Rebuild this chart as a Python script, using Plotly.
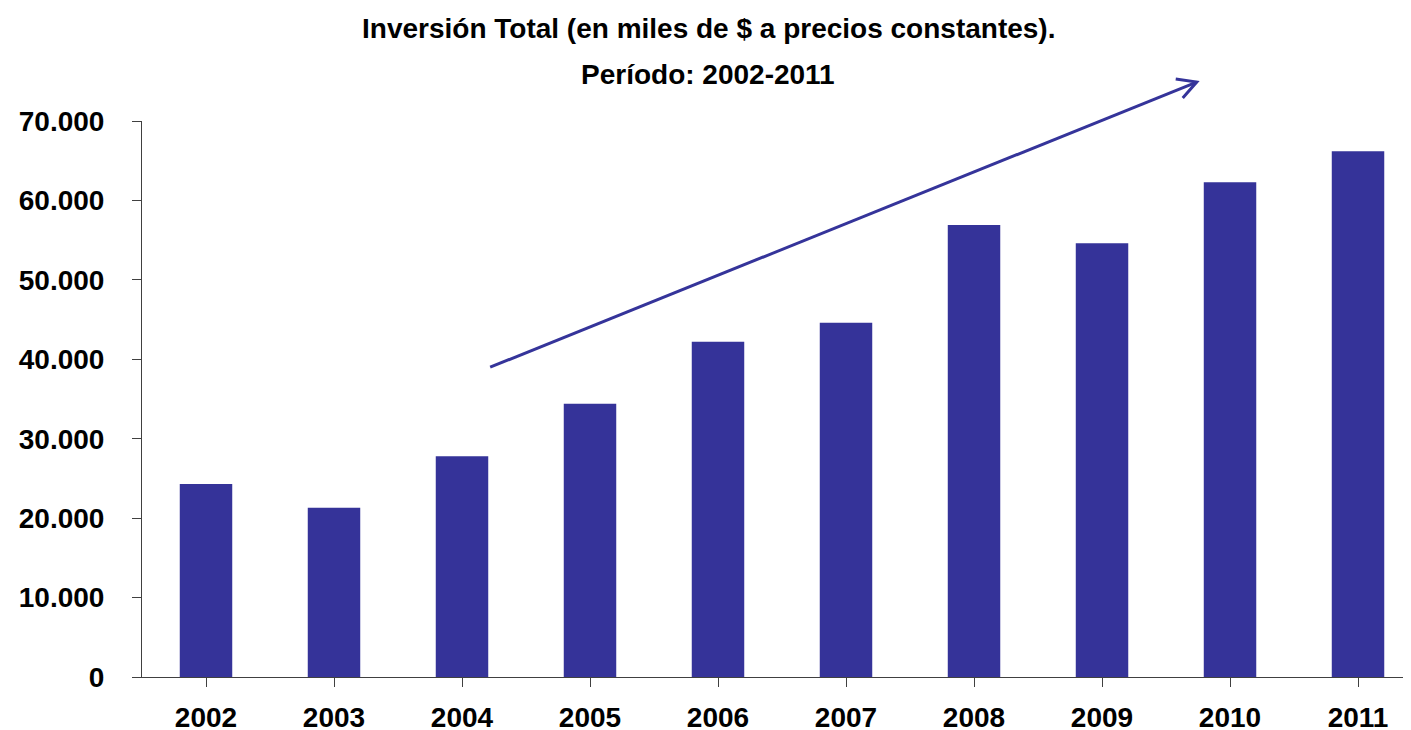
import plotly.graph_objects as go

years = ["2002", "2003", "2004", "2005", "2006", "2007", "2008", "2009", "2010", "2011"]
inversion = [24300, 21300, 27800, 34400, 42200, 44600, 56900, 54600, 62300, 66200]
y_ticks = [0, 10000, 20000, 30000, 40000, 50000, 60000, 70000]
y_tick_labels = ["0", "10.000", "20.000", "30.000", "40.000", "50.000", "60.000", "70.000"]

# trend arrow (data coords: category index, value)
arrow_tail = (2.22, 39000)
arrow_tip = (7.74, 74900)

bar_color = "#353399"
arrow_color = "#35349A"

X_RANGE = [-0.5, 9.414]
Y_RANGE = [0, 70000]

# page body has an 8px margin; compensate so the plot lands where the reference has it
W, H = 1403, 722
ML, MT, MB, MR = 134, 113, 53, 0
PLOT_H = H - MT - MB

fig = go.Figure(go.Bar(x=list(range(len(years))), y=inversion, marker_color=bar_color,
                       width=0.41, marker_line_width=0))

fig.update_layout(
    width=W, height=H,
    margin=dict(l=ML, r=MR, t=MT, b=MB, autoexpand=False),
    paper_bgcolor="white", plot_bgcolor="white",
    showlegend=False,
    font=dict(family="Liberation Sans", color="black"),
)

title_font = dict(family="Liberation Sans", size=28, color="black", weight="bold")
title_x = (700 - ML) / (W - ML - MR)
fig.add_annotation(text="Inversión Total (en miles de $ a precios constantes).", xref="paper", yref="paper",
                   x=title_x, y=1 + (MT - 21) / PLOT_H, xanchor="center", yanchor="middle",
                   showarrow=False, font=title_font)
fig.add_annotation(text="Período: 2002-2011", xref="paper", yref="paper",
                   x=title_x, y=1 + (MT - 66) / PLOT_H, xanchor="center", yanchor="middle",
                   showarrow=False, font=title_font)

fig.update_xaxes(range=X_RANGE, tickmode="array", tickvals=list(range(len(years))),
                 ticktext=years, showgrid=False, showline=True, linecolor="#404040", linewidth=1,
                 ticks="outside", ticklen=9, tickcolor="#404040", tickson="boundaries",
                 tickfont=dict(size=28, weight="bold", color="black"), ticklabelstandoff=6,
                 automargin=False)
fig.update_yaxes(range=Y_RANGE, tickmode="array", tickvals=y_ticks, ticktext=y_tick_labels,
                 showgrid=False, showline=True, linecolor="#404040", linewidth=1,
                 ticks="outside", ticklen=9, tickcolor="#404040",
                 tickfont=dict(size=28, weight="bold", color="black"), ticklabelstandoff=22,
                 zeroline=False, automargin=False)


def to_paper(pt):
    return ((pt[0] - X_RANGE[0]) / (X_RANGE[1] - X_RANGE[0]),
            (pt[1] - Y_RANGE[0]) / (Y_RANGE[1] - Y_RANGE[0]))


tail_p = to_paper(arrow_tail)
tip_p = to_paper(arrow_tip)
fig.add_shape(type="line", x0=tail_p[0], y0=tail_p[1], x1=tip_p[0], y1=tip_p[1],
              xref="paper", yref="paper", line=dict(color=arrow_color, width=3))
fig.add_shape(type="path", xref="paper", yref="paper", xsizemode="pixel", ysizemode="pixel",
              xanchor=tip_p[0], yanchor=tip_p[1],
              path="M -21,3 L 0,0 L -14,-16", line=dict(color=arrow_color, width=3))

fig.write_html("out.html")
